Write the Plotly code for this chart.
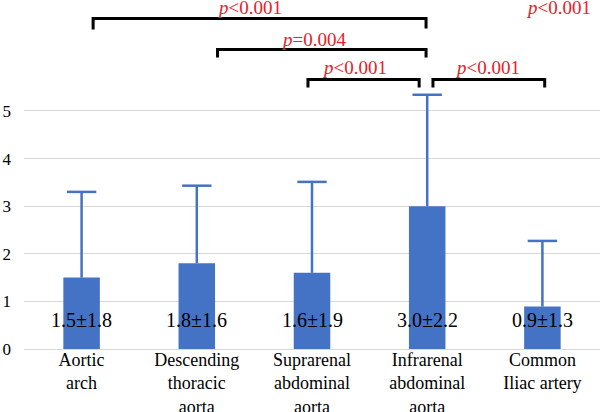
import plotly.graph_objects as go

categories = ["Aortic<br>arch", "Descending<br>thoracic<br>aorta", "Suprarenal<br>abdominal<br>aorta",
              "Infrarenal<br>abdominal<br>aorta", "Common<br>Iliac artery"]
means = [1.5, 1.8, 1.6, 3.0, 0.89]
sd_plus = [1.8, 1.63, 1.91, 2.34, 1.38]
value_labels = ["1.5\u00b11.8", "1.8\u00b11.6", "1.6\u00b11.9", "3.0\u00b12.2", "0.9\u00b11.3"]
y_ticks = [0, 1, 2, 3, 4, 5]

brackets = [
    # x0, x1, y_top, y_bottom_left, y_bottom_right
    (0.10, 2.99, 6.94, 6.71, 6.73),
    (1.18, 2.99, 6.29, 6.12, 6.12),
    (1.965, 2.93, 5.66, 5.49, 5.49),
    (3.05, 4.02, 5.66, 5.49, 5.49),
]
p_texts = [
    (1.46, 7.17, "<i>p</i>&lt;0.001"),
    (2.01, 6.50, "<i>p</i>=0.004"),
    (2.373, 5.91, "<i>p</i>&lt;0.001"),
    (3.52, 5.91, "<i>p</i>&lt;0.001"),
    (4.14, 7.17, "<i>p</i>&lt;0.001"),
]

SERIF = "Liberation Serif, Times New Roman, serif"
BLUE = "#4472C4"

xs = list(range(len(categories)))
tops = [m + s for m, s in zip(means, sd_plus)]

fig = go.Figure()
fig.add_trace(go.Bar(
    x=xs, y=means, marker=dict(color=BLUE, line=dict(width=0)),
    error_y=dict(type="data", array=sd_plus, arrayminus=[0] * len(means), symmetric=False,
                 color=BLUE, thickness=2.5, width=0),
    width=0.317,
))
# error-bar caps
fig.add_trace(go.Scatter(
    x=xs, y=tops, mode="markers",
    marker=dict(symbol="line-ew", size=21, line=dict(color=BLUE, width=2.5)),
    hoverinfo="skip",
))

for i, t in enumerate(value_labels):
    fig.add_annotation(x=i, y=0.6, text=t, showarrow=False,
                       font=dict(family=SERIF, size=20, color="black"))

for x0, x1, yt, yl, yr in brackets:
    fig.add_shape(type="path", xref="x", yref="y",
                  path=f"M {x0} {yl} L {x0} {yt} L {x1} {yt} L {x1} {yr}",
                  line=dict(color="black", width=3))

for x, y, t in p_texts:
    fig.add_annotation(x=x, y=y, text=t, showarrow=False,
                       font=dict(family=SERIF, size=19, color="#E8202A"))

fig.update_layout(
    width=600, height=412,
    margin=dict(l=24, r=0, t=0, b=63),
    plot_bgcolor="white", paper_bgcolor="white",
    showlegend=False,
    bargap=0.683,
    font=dict(family=SERIF, size=18, color="black"),
)
fig.update_xaxes(range=[-0.5, 4.5], tickvals=xs, ticktext=categories, showgrid=False,
                 zeroline=False, showline=False, ticks="", automargin=False,
                 ticklabelstandoff=-2,
                 tickfont=dict(family=SERIF, size=18, color="black"))
fig.update_yaxes(range=[0, 7.33], tickvals=y_ticks, showgrid=True, gridcolor="#D9D9D9",
                 gridwidth=1, zeroline=True, zerolinecolor="#D9D9D9", zerolinewidth=1,
                 showline=False, ticks="", automargin=False, ticklabelstandoff=12,
                 tickfont=dict(family=SERIF, size=17, color="black"))

fig.write_html("out.html", config={"displayModeBar": False},
               post_script="document.body.style.margin='0';")
